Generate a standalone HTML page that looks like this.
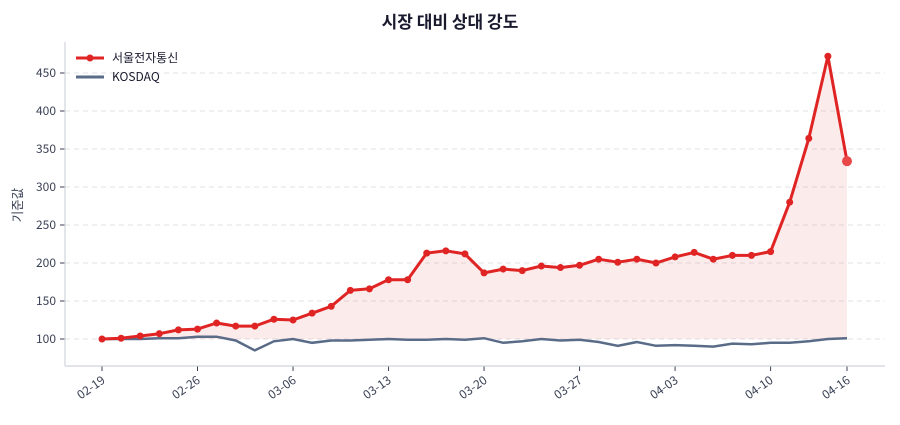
<!DOCTYPE html>
<html><head><meta charset="utf-8"><style>
body{margin:0;background:#fff;width:900px;height:420px;overflow:hidden}
text{font-family:"Noto Sans CJK KR","Liberation Sans",sans-serif}
</style></head><body>
<svg id="s" width="900" height="420" xmlns="http://www.w3.org/2000/svg">
<text x="450" y="28" text-anchor="middle" font-size="17" font-weight="bold" fill="#1a1a2e">시장 대비 상대 강도</text>
<g id="grid" stroke="#e2e2e6" stroke-dasharray="5,4" stroke-width="1"></g>
<g stroke="#d0d4dc" stroke-width="1.2">
<line x1="65" y1="42" x2="65" y2="366"/><line x1="65" y1="366" x2="885" y2="366"/>
</g>
<g font-size="12" fill="#3b4256" text-anchor="end">
<text x="56" y="343">100</text><text x="56" y="305">150</text><text x="56" y="267">200</text><text x="56" y="229">250</text><text x="56" y="191">300</text><text x="56" y="153">350</text><text x="56" y="115">400</text><text x="56" y="77">450</text>
</g>
<text transform="translate(22,205) rotate(-90)" text-anchor="middle" font-size="12.5" fill="#3b4256">기준값</text>
<g font-size="12" fill="#3b4256" text-anchor="end">
<text transform="translate(106,382) rotate(-35)">02-19</text>
<text transform="translate(201,382) rotate(-35)">02-26</text>
<text transform="translate(297,382) rotate(-35)">03-06</text>
<text transform="translate(392,382) rotate(-35)">03-13</text>
<text transform="translate(488,382) rotate(-35)">03-20</text>
<text transform="translate(583,382) rotate(-35)">03-27</text>
<text transform="translate(679,382) rotate(-35)">04-03</text>
<text transform="translate(774,382) rotate(-35)">04-10</text>
<text transform="translate(851,382) rotate(-35)">04-16</text>
</g>
<g id="plot"></g>
<line x1="76" y1="58" x2="104" y2="58" stroke="#e02424" stroke-width="3"/><circle cx="90" cy="58" r="3.5" fill="#e02424"/>
<text x="112" y="62" font-size="12" fill="#1a1a2e">서울전자통신</text>
<line x1="76" y1="77" x2="104" y2="77" stroke="#5a6b88" stroke-width="3"/>
<text x="112" y="81" font-size="12" fill="#1a1a2e">KOSDAQ</text>
</svg>
<script>
var r=[100,101,104,107,112,113,121,117,117,126,125,134,143,164,166,178,178,213,216,212,187,192,190,196,194,197,205,201,205,200,208,214,205,210,210,215,280,364,472,334];
var g=[100,100,100,101,101,103,103,98,85,97,100,95,98,98,99,100,99,99,100,99,101,95,97,100,98,99,96,91,96,91,92,91,90,94,93,95,95,97,100,101];
function X(i){return 102+i*745/39}function Y(v){return 339-(v-100)*0.76}
var ns="http://www.w3.org/2000/svg",s=document.getElementById('plot'),gr=document.getElementById('grid');
for(var v=100;v<=450;v+=50){var l=document.createElementNS(ns,'line');l.setAttribute('x1',65);l.setAttribute('x2',885);l.setAttribute('y1',Y(v));l.setAttribute('y2',Y(v));gr.appendChild(l);
var t=document.createElementNS(ns,'line');t.setAttribute('x1',60);t.setAttribute('x2',65);t.setAttribute('y1',Y(v));t.setAttribute('y2',Y(v));t.setAttribute('stroke','#3b4256');t.setAttribute('stroke-dasharray','none');gr.appendChild(t);}
[0,5,10,15,20,25,30,35,39].forEach(function(i){var t=document.createElementNS(ns,'line');t.setAttribute('x1',X(i));t.setAttribute('x2',X(i));t.setAttribute('y1',366);t.setAttribute('y2',371);t.setAttribute('stroke','#3b4256');t.setAttribute('stroke-dasharray','none');gr.appendChild(t);});
function pts(a){return a.map(function(v,i){return X(i).toFixed(1)+','+Y(v).toFixed(1)}).join(' ')}
var area=document.createElementNS(ns,'polygon');area.setAttribute('points',pts(r)+' '+X(39).toFixed(1)+','+Y(100)+' '+X(0).toFixed(1)+','+Y(100));area.setAttribute('fill','rgba(224,36,36,0.09)');s.appendChild(area);
var pg=document.createElementNS(ns,'polyline');pg.setAttribute('points',pts(g));pg.setAttribute('fill','none');pg.setAttribute('stroke','#5a6b88');pg.setAttribute('stroke-width','2.5');s.appendChild(pg);
var pr=document.createElementNS(ns,'polyline');pr.setAttribute('points',pts(r));pr.setAttribute('fill','none');pr.setAttribute('stroke','#e02424');pr.setAttribute('stroke-width','3');pr.setAttribute('stroke-linejoin','round');s.appendChild(pr);
r.forEach(function(v,i){var c=document.createElementNS(ns,'circle');c.setAttribute('cx',X(i));c.setAttribute('cy',Y(v));c.setAttribute('r',i==39?5:3.5);c.setAttribute('fill',i==39?'#e84848':'#e02424');s.appendChild(c);});
</script>
</body></html>
